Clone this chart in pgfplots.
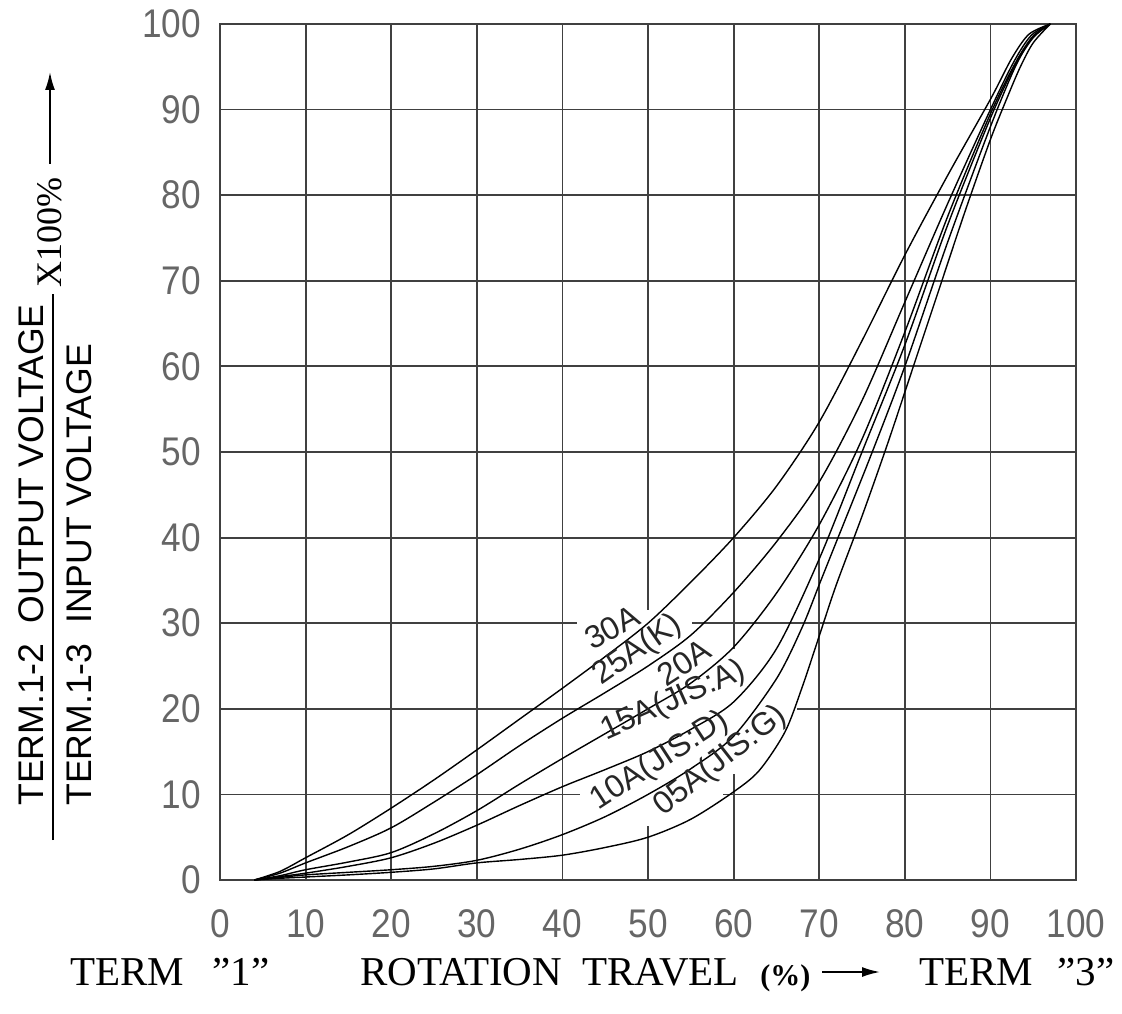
\documentclass[border=0pt]{standalone}
\usepackage{pgfplots}
\pgfplotsset{compat=1.18}
\usepackage{graphicx}
\usepackage{fontspec}
\usetikzlibrary{arrows.meta}
\setmainfont{Liberation Serif}
\newfontfamily\sansf{Liberation Sans}
\newcommand\tl[1]{\scalebox{0.88}[1]{#1}}
\tikzset{
  gap/.style={white, line width=2.6pt},
  lt/.style={inner sep=0pt, text=black!85, font=\sansf\fontsize{16}{16}\selectfont},
  xd/.style={anchor=base west, inner sep=0pt, font=\fontsize{20.5}{20.5}\selectfont},
  yd/.style={rotate=90, inner sep=0pt, font=\sansf\fontsize{17.8}{17.8}\selectfont},
}
\begin{document}
\begin{tikzpicture}
\begin{axis}[
  set layers,
  scale only axis, width=428pt, height=428pt,
  xmin=0, xmax=100, ymin=0, ymax=100,
  xtick={0,10,20,30,40,50,60,70,80,90,100},
  ytick={0,10,20,30,40,50,60,70,80,90,100},
  xticklabels={\tl{0},\tl{10},\tl{20},\tl{30},\tl{40},\tl{50},\tl{60},\tl{70},\tl{80},\tl{90},\tl{100}},
  yticklabels={\tl{0},\tl{10},\tl{20},\tl{30},\tl{40},\tl{50},\tl{60},\tl{70},\tl{80},\tl{90},\tl{100}},
  grid=major,
  major grid style={line width=0.9pt, black!75},
  axis line style={line width=1pt, black!75},
  major tick length=0pt,
  tick label style={font=\sansf\fontsize{20}{20}\selectfont, text=black!60},
  xticklabel style={anchor=center, yshift=-22pt},
  yticklabel style={anchor=east, xshift=-6pt},
]
% grid interrupted around the curve labels
\begin{pgfonlayer}{axis ticks}
\draw[gap] (axis cs:41.7,30) -- (axis cs:55.1,30);
\draw[gap] (axis cs:48.2,20) -- (axis cs:67.4,20);
\draw[gap] (axis cs:42,10) -- (axis cs:58.8,10);
\draw[gap] (axis cs:50,6.3) -- (axis cs:50,31.6);
\draw[gap] (axis cs:60,12.4) -- (axis cs:60,27);
\end{pgfonlayer}
% 30A
\addplot[black, line width=0.7pt, smooth] coordinates {
 (4,0) (7,1) (10,2.6) (15,5.3) (20,8.4) (25,11.7) (30,15.2) (35,18.8) (40,22.4)
 (45,26.1) (50,30) (55,34.8) (60,40) (65,46) (70,53.5) (75,63) (80,73) (85,82.3)
 (90,91.2) (92.5,96) (94.5,98.8) (97,100)};
% 25A(K)
\addplot[black, line width=0.7pt, smooth] coordinates {
 (4,0) (7,0.8) (10,2.0) (15,3.9) (20,6.1) (25,9.1) (30,12.3) (35,15.7) (40,18.9)
 (45,21.9) (50,25) (55,28.6) (60,33.6) (65,39.5) (70,46.5) (75,56) (80,67.5) (85,79)
 (90,90) (92.8,95.7) (94.8,98.7) (97,100)};
% 20A
\addplot[black, line width=0.7pt, smooth] coordinates {
 (4,0) (7,0.5) (10,1.2) (15,2.1) (20,3.2) (25,5.4) (30,8.1) (35,11.2) (40,14.2)
 (45,17.1) (50,20) (55,23) (60,27.2) (65,33.5) (70,41.5) (75,51.5) (80,64) (85,77.5)
 (90,89.5) (93,95.6) (95,98.6) (97,100)};
% 15A(JIS:A)
\addplot[black, line width=0.7pt, smooth] coordinates {
 (4,0) (7,0.4) (10,0.8) (15,1.6) (20,2.6) (25,4.3) (30,6.4) (35,8.7) (40,10.9)
 (45,12.9) (50,15) (55,17.6) (60,20.8) (65,27) (70,37.5) (75,50) (80,62.5) (85,76.5)
 (90,89) (93,95.4) (95,98.5) (97,100)};
% 10A(JIS:D)
\addplot[black, line width=0.7pt, smooth] coordinates {
 (4,0) (7,0.3) (10,0.6) (15,0.9) (20,1.2) (25,1.6) (30,2.3) (35,3.6) (40,5.3)
 (45,7.4) (50,10) (55,13) (60,16.8) (65,23.5) (68,29.5) (70,34.5) (72,39.5) (76,49.5)
 (80,60) (85,74.5) (90,88) (93,95.2) (95,98.4) (97,100)};
% 05A(JIS:G)
\addplot[black, line width=0.7pt, smooth] coordinates {
 (4,0) (7,0.2) (10,0.35) (15,0.6) (20,0.9) (25,1.3) (30,2.0) (35,2.4) (40,2.9)
 (45,3.8) (50,5) (55,7.1) (60,10.3) (63,12.8) (66,17.3) (68,22.5) (70,28.5) (72,34.5)
 (75,42.5) (78,51) (81,60) (84,69) (87,78) (90,86.5) (92,91.5) (93.5,95) (95,97.8)
 (97,100)};
% curve labels
\node[lt, rotate=28] at (axis cs:45.8,29.5) {30A};
\node[lt, rotate=35] at (axis cs:48.8,26.8) {25A(K)};
\node[lt, rotate=33] at (axis cs:54.2,25.4) {20A};
\node[lt, rotate=24] at (axis cs:53.0,20.9) {15A(JIS:A)};
\node[lt, rotate=33] at (axis cs:51.4,13.9) {10A(JIS:D)};
\node[lt, rotate=38] at (axis cs:58.5,13.9) {05A(JIS:G)};
\end{axis}
% y axis description
\node[yd, anchor=south west] at (-88pt,37pt) {TERM.1-2\ \ OUTPUT VOLTAGE};
\draw[line width=0.9pt] (-83.5pt,20pt) -- (-83.5pt,293pt);
\node[yd, anchor=north west] at (-77pt,37pt) {TERM.1-3\ \ INPUT VOLTAGE};
\node[rotate=90, anchor=west, inner sep=0pt, font=\fontsize{18}{18}\selectfont]
  at (-85pt,296pt) {X100\%};
\draw[line width=0.9pt, -{Latex[length=9pt,width=5pt]}] (-85pt,358pt) -- (-85pt,404pt);
% x axis description
\node[xd] at (-75pt,-52.5pt) {TERM};
\node[xd] at (-4pt,-52.5pt) {"1"};
\node[xd] at (70pt,-52.5pt) {ROTATION\ \ TRAVEL};
\node[xd, font=\bfseries\fontsize{15}{15}\selectfont] at (270pt,-52.5pt) {(\%)};
\draw[line width=0.9pt, -{Latex[length=9pt,width=5pt]}] (301pt,-46pt) -- (330pt,-46pt);
\node[xd] at (349.5pt,-52.5pt) {TERM};
\node[xd] at (418.5pt,-52.5pt) {"3"};
\pgfresetboundingbox
\path (-110pt,-66.5pt) rectangle (451pt,440pt);
\end{tikzpicture}
\end{document}
